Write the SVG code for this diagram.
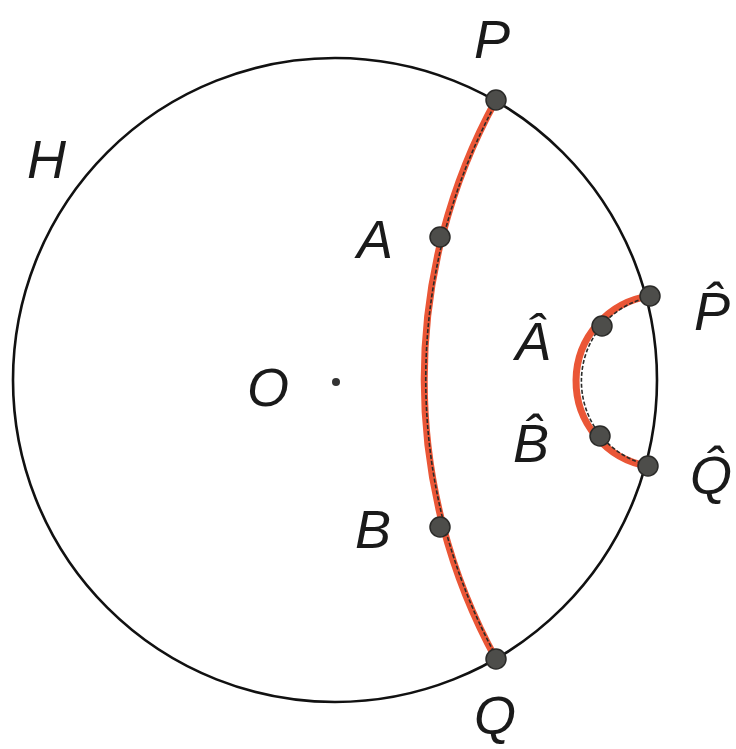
<svg xmlns="http://www.w3.org/2000/svg" width="736" height="749" viewBox="0 0 736 749">
<style>
.lbl{font-family:"Liberation Sans",Arial,sans-serif;font-style:italic;font-size:54px;fill:#1a1a1a}
.geo{fill:none;stroke:#ea5636;stroke-width:7;stroke-linecap:round}
.ink{fill:none;stroke:#2a2a28;stroke-width:1.6;stroke-dasharray:4 2}
.pt{fill:#4d4d4a;stroke:#2a2a28;stroke-width:1.5}
</style>
<rect width="736" height="749" fill="#ffffff"/>
<g id="disk">
<circle cx="335" cy="380" r="322" fill="none" stroke="#111" stroke-width="2.6"/>
<circle cx="336" cy="382" r="4" fill="#333"/>
</g>
<g id="connectors">
<path class="geo" d="M496 100 A580 580 0 0 0 496 659"/>
<path class="ink" d="M497 101 A580 580 0 0 0 497 658"/>
<path class="geo" d="M650 296 A86 86 0 0 0 648 466"/>
<path class="ink" d="M650 297 A86 86 0 0 0 648 465"/>
</g>
<g id="node-P"><circle class="pt" cx="496" cy="100" r="10"/><text class="lbl" x="474" y="58">P</text></g>
<g id="node-Q"><circle class="pt" cx="496" cy="659" r="10"/><text class="lbl" x="474" y="734">Q</text></g>
<g id="node-A"><circle class="pt" cx="440" cy="237" r="10"/><text class="lbl" x="357" y="258">A</text></g>
<g id="node-B"><circle class="pt" cx="440" cy="527" r="10"/><text class="lbl" x="355" y="548">B</text></g>
<g id="node-H"><text class="lbl" x="27" y="178">H</text></g>
<g id="node-O"><text class="lbl" x="247" y="406">O</text></g>
<g id="node-Phat"><circle class="pt" cx="650" cy="296" r="10"/><text class="lbl" x="694" y="330">P&#770;</text></g>
<g id="node-Qhat"><circle class="pt" cx="648" cy="466" r="10"/><text class="lbl" x="690" y="494">Q&#770;</text></g>
<g id="node-Ahat"><circle class="pt" cx="602" cy="326" r="10"/><text class="lbl" x="515" y="360">&#194;</text></g>
<g id="node-Bhat"><circle class="pt" cx="600" cy="436" r="10"/><text class="lbl" x="513" y="462">B&#770;</text></g>
</svg>
